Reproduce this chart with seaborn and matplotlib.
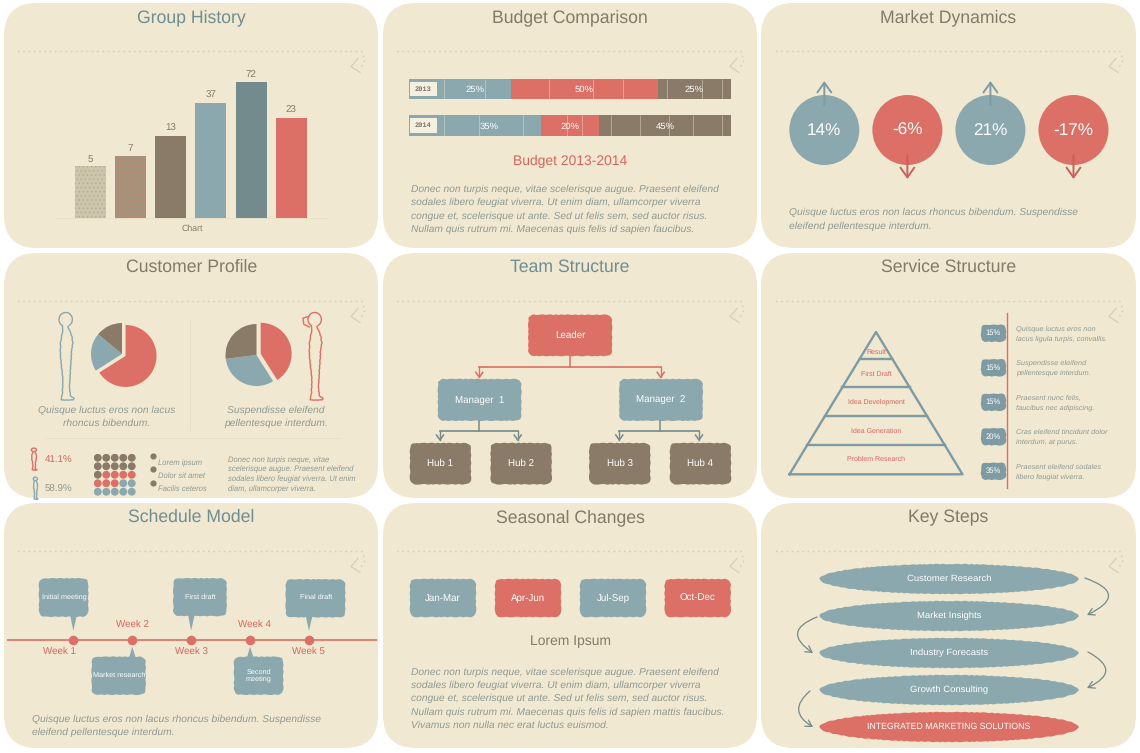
import numpy as np
import pandas as pd
import matplotlib.pyplot as plt
import seaborn as sns

from matplotlib.patches import Ellipse, FancyArrowPatch, FancyBboxPatch, Polygon

# ---------------------------------------------------------------
# Settings: picture size and colours
# ---------------------------------------------------------------
WIDTH = 1140
HEIGHT = 753

CREAM = "#F0E8D0"
RED = "#DC6F66"
TEAL = "#8BA8AE"
DARK_TEAL = "#748B8D"
TAB_TEAL = "#7E9BA3"
BROWN = "#8A7B68"
TAN = "#CDC5AB"
MID_TAN = "#A5927B"
TITLE_TEAL = "#6F8D94"
TITLE_BROWN = "#847A69"
TEXT_GREY = "#8F9A94"
DOT_LINE = "#D6CEB9"
RED_TEXT = "#D9645F"

plt.rcParams["font.family"] = "Liberation Sans"
plt.rcParams["hatch.linewidth"] = 0.6
plt.rcParams["text.hinting"] = "no_hinting"

# ---------------------------------------------------------------
# Values
# ---------------------------------------------------------------
TITLES = ["Group History", "Budget Comparison", "Market Dynamics",
          "Customer Profile", "Team Structure", "Service Structure",
          "Schedule Model", "Seasonal Changes", "Key Steps"]
TITLE_COLORS = [TITLE_TEAL, TITLE_BROWN, TITLE_BROWN,
                TITLE_BROWN, TITLE_TEAL, TITLE_BROWN,
                TITLE_TEAL, TITLE_BROWN, TITLE_BROWN]

history_groups = ["a", "b", "c", "d", "e", "f"]
history_values = [5, 7, 13, 37, 72, 23]

budget_years = ["2013", "2014"]
budget_first = [25, 35]
budget_second = [50, 20]
budget_third = [25, 45]

market_changes = [14, -6, 21, -17]

pie_left = [66, 20, 14]
pie_right = [41, 32, 27]
gender_shares = ["41.1%", "58.9%"]
dot_counts = [11, 7, 7]
dot_legend = ["Lorem ipsum", "Dolor sit amet", "Facilis ceteros"]

hub_names = ["Hub 1", "Hub 2", "Hub 3", "Hub 4"]
manager_names = ["Manager  1", "Manager  2"]

pyramid_stages = ["Result", "First Draft", "Idea Development",
                  "Idea Generation", "Problem Research"]
service_shares = [15, 15, 15, 20, 35]
service_notes = [["Quisque luctus eros non", "lacus ligula turpis, convallis."],
                 ["Suspendisse eleifend", "pellentesque interdum."],
                 ["Praesent nunc felis,", "faucibus nec adipiscing."],
                 ["Cras eleifend tincidunt dolor", "interdum, at purus."],
                 ["Praesent eleifend sodales", "libero feugiat viverra."]]

week_names = ["Week 1", "Week 2", "Week 3", "Week 4", "Week 5"]
week_events = ["Initial meeting", "Market research", "First draft",
               "Second\nmeeting", "Final draft"]

seasons = ["Jan-Mar", "Apr-Jun", "Jul-Sep", "Oct-Dec"]
key_steps = ["Customer Research", "Market Insights", "Industry Forecasts",
             "Growth Consulting", "INTEGRATED MARKETING SOLUTIONS"]

budget_text = ["Donec non turpis neque, vitae scelerisque augue. Praesent eleifend",
               "sodales libero feugiat viverra. Ut enim diam, ullamcorper viverra",
               "congue et, scelerisque ut ante. Sed ut felis sem, sed auctor risus.",
               "Nullam quis rutrum mi. Maecenas quis felis id sapien faucibus."]
season_text = ["Donec non turpis neque, vitae scelerisque augue. Praesent eleifend",
               "sodales libero feugiat viverra. Ut enim diam, ullamcorper viverra",
               "congue et, scelerisque ut ante. Sed ut felis sem, sed auctor risus.",
               "Nullam quis rutrum mi. Maecenas quis felis id sapien mattis faucibus.",
               "Vivamus non nulla nec erat luctus euismod."]
short_text = ["Quisque luctus eros non lacus rhoncus bibendum. Suspendisse",
              "eleifend pellentesque interdum."]
profile_text = ["Donec non turpis neque, vitae",
                "scelerisque augue. Praesent eleifend",
                "sodales libero feugiat viverra. Ut enim",
                "diam, ullamcorper viverra."]


# ---------------------------------------------------------------
# Small helpers, everything in picture pixels
# ---------------------------------------------------------------
def px_axes(fig, x0, y0, x1, y1):
    ax = fig.add_axes([x0 / WIDTH, 1 - y1 / HEIGHT, (x1 - x0) / WIDTH, (y1 - y0) / HEIGHT])
    ax.set_facecolor("none")
    return ax


def rough(patch, scale=0.3):
    patch.set_sketch_params(scale, 9, 3)
    return patch


def round_box(bg, x0, y0, x1, y1, color, radius=6, label=None, size=7):
    bg.add_patch(rough(FancyBboxPatch((x0, y0), x1 - x0, y1 - y0, linewidth=0, facecolor=color,
                                      boxstyle=f"round,pad=0,rounding_size={radius}")))
    if label:
        bg.text((x0 + x1) / 2, (y0 + y1) / 2, label, color="white", size=size,
                ha="center", va="center", linespacing=1.0)


def paragraph(bg, x, y, step, lines, size=7.4, color=TEXT_GREY, ha="left"):
    for i, line in enumerate(lines):
        bg.text(x, y + i * step, line, size=size, color=color, style="italic", ha=ha, va="center")


def arrow_down(bg, x, y0, y1, color):
    bg.plot([x, x], [y0, y1], color=color, lw=1.0)
    bg.plot([x - 3.5, x, x + 3.5], [y1 - 5, y1, y1 - 5], color=color, lw=1.1)


def person(bg, x, y, w, h, color, ponytail=False):
    # side view, facing right
    shape = np.array([(0.62, 0.165), (0.72, 0.21), (0.88, 0.28), (0.92, 0.36), (0.84, 0.45),
                      (0.82, 0.53), (0.76, 0.70), (0.72, 0.88), (0.78, 0.95), (1.00, 0.985),
                      (0.95, 1.00), (0.20, 1.00), (0.28, 0.92), (0.30, 0.75), (0.18, 0.55),
                      (0.14, 0.45), (0.16, 0.35), (0.22, 0.27), (0.30, 0.21), (0.30, 0.165)])
    angle = np.radians(np.arange(-60, 245, 15))
    head_x = 0.48 + 0.42 * np.cos(angle)
    head_y = 0.085 - 0.08 * np.sin(angle)
    line, = bg.plot(x + shape[:, 0] * w, y + shape[:, 1] * h, color=color, lw=1.0)
    line.set_sketch_params(0.25, 6, 3)
    bg.plot(x + head_x * w, y + head_y * h, color=color, lw=1.0)
    if ponytail:
        bg.plot(x + np.array([0.1, -0.25, -0.2, 0.15]) * w, y + np.array([0.05, 0.07, 0.14, 0.17]) * h,
                color=color, lw=1.0)


# ---------------------------------------------------------------
# Panels, titles and the dotted line with the corner arrow
# ---------------------------------------------------------------
def draw_panels(bg):
    columns = [(4, 378), (383, 757), (761, 1136)]
    rows = [(3, 248), (253, 498), (503, 748)]
    centers = [191.5, 570, 948.5]
    for r, (y0, y1) in enumerate(rows):
        for c, (x0, x1) in enumerate(columns):
            bg.add_patch(FancyBboxPatch((x0, y0), x1 - x0, y1 - y0, linewidth=0, facecolor=CREAM,
                                        boxstyle="round,pad=0,rounding_size=33"))
            bg.text(centers[c], y0 + 14.3, TITLES[r * 3 + c], size=12.7, color=TITLE_COLORS[r * 3 + c],
                    ha="center", va="center")
            dx = c * 379
            dy = y0 + 48.5
            bg.plot([18 + dx, 362 + dx, 365 + dx, 361 + dx], [dy, dy, dy + 9, dy + 16],
                    color=DOT_LINE, lw=1.0, ls=(0, (1.2, 2.6)))
            bg.plot([358 + dx, 351 + dx, 360 + dx], [dy + 7, dy + 15, dy + 21], color=DOT_LINE, lw=0.9)


# ---------------------------------------------------------------
# Group History
# ---------------------------------------------------------------
def draw_history(fig):
    ax = px_axes(fig, 57, 71.3, 327, 217.5)
    colors = [TAN, MID_TAN, BROWN, TEAL, DARK_TEAL, RED]
    sns.barplot(x=history_groups, y=history_values, hue=history_groups, palette=colors, legend=False,
                width=0.77, saturation=1, ax=ax)
    ax.set_yscale("log")
    ax.set_xlim(-0.83, 5.89)
    ax.set_ylim(1, 100)
    for bar in ax.patches:
        bar.set_height(bar.get_height() - 1)  # log axis starts at one
        bar.set_y(1)
        bar.set_linewidth(0)
    for container in ax.containers:
        ax.bar_label(container, padding=2, size=7, color=TITLE_BROWN)
    ax.patches[0].set_hatch("....")
    ax.patches[0].set_edgecolor("#B5AD94")
    ax.patches[1].set_hatch("...")
    ax.patches[1].set_edgecolor("#CF7F6F")
    ax.tick_params(which="both", length=0, labelbottom=False, labelleft=False)
    ax.minorticks_off()
    ax.set_ylabel("")
    ax.set_xlabel("Chart", size=6.3, color=TITLE_BROWN, labelpad=5)
    sns.despine(ax=ax, left=True)
    ax.spines["bottom"].set_color("#E7DEC6")
    ax.spines["bottom"].set_linewidth(0.6)


# ---------------------------------------------------------------
# Budget Comparison
# ---------------------------------------------------------------
def draw_budget(fig, bg):
    ax = px_axes(fig, 409, 71, 731, 143.6)
    first = np.array(budget_first)
    second = first + np.array(budget_second)
    third = second + np.array(budget_third)
    for values, color in [(third, BROWN), (second, RED), (first, TEAL)]:
        sns.barplot(x=values, y=budget_years, color=color, width=0.57, saturation=1, orient="h", ax=ax)
    ax.barh(budget_years, [9.9, 9.9], left=-9.9, height=0.57, color=TEAL)
    ax.barh(budget_years, [8.9, 8.9], left=-9.4, height=0.4, color="#F4EFDF")
    ax.set_xlim(-9.9, 100)
    ax.set_ylim(1.5, -0.5)
    ax.axis("off")
    cracks = [[2, 16, 38, 53, 63, 78, 90, 97], [2, 14, 29, 44, 49, 59, 69, 79, 87, 97]]
    for i, year in enumerate(budget_years):
        ax.text(-5, i, year, size=5, color="#77746A", family="Liberation Mono", weight="bold",
                ha="center", va="center")
        ax.vlines(cracks[i], i - 0.285, i + 0.285, color=CREAM, lw=0.5, alpha=0.6)
        ax.text(first[i] / 2, i + 0.02, f"{budget_first[i]}%", size=6.8, color="white", ha="center", va="center")
        ax.text((first[i] + second[i]) / 2, i + 0.02, f"{budget_second[i]}%", size=6.8, color="white",
                ha="center", va="center")
        ax.text((second[i] + third[i]) / 2, i + 0.02, f"{budget_third[i]}%", size=6.8, color="white",
                ha="center", va="center")
    bg.text(570, 161, "Budget 2013-2014", size=10, color=RED_TEXT, ha="center", va="center")
    paragraph(bg, 411, 189, 13.5, budget_text)


# ---------------------------------------------------------------
# Market Dynamics
# ---------------------------------------------------------------
def draw_market(fig, bg):
    ax = px_axes(fig, 782.8, 70, 1115, 190)
    df = pd.DataFrame({"step": range(len(market_changes)), "change": market_changes, "level": 0})
    df["sign"] = np.where(df["change"] > 0, "up", "down")
    sns.scatterplot(data=df, x="step", y="level", hue="sign", palette={"up": TEAL, "down": RED},
                    s=2540, linewidth=0, legend=False, ax=ax)
    ax.set_xlim(-0.5, 3.5)
    ax.set_ylim(-60, 60)
    ax.axis("off")
    for i, row in df.iterrows():
        color = TAB_TEAL if row["sign"] == "up" else "#C9605B"
        side = 1 if row["sign"] == "up" else -1
        ax.annotate("", xy=(i, side * 49), xytext=(i, side * 25),
                    arrowprops=dict(arrowstyle="->,head_width=0.5,head_length=0.7", color=color, lw=1.4,
                                    shrinkA=0, shrinkB=0))
        ax.text(i, -0.5, f"{row['change']}%", size=12.3, color="white", ha="center", va="center")
    paragraph(bg, 789, 212.5, 13.5, short_text)


# ---------------------------------------------------------------
# Customer Profile
# ---------------------------------------------------------------
def draw_customer(fig, bg):
    colors = [RED, TEAL, BROWN]
    left = px_axes(fig, 84.5, 316.5, 159.5, 391.5)
    left.pie(pie_left, colors=colors, startangle=90, counterclock=False, explode=[0.13, 0, 0], radius=1)
    left.set_xlim(-1.21, 1.21)
    left.set_ylim(-1.21, 1.21)
    right = px_axes(fig, 219, 317.5, 294, 392.5)
    right.pie(pie_right, colors=colors, startangle=90, counterclock=False, explode=[0.14, 0, 0], radius=1)
    right.set_xlim(-1.21, 1.21)
    right.set_ylim(-1.21, 1.21)

    person(bg, 58, 312, 16, 88, TEAL)
    person(bg, 307, 312, 16, 88, RED, ponytail=True)
    person(bg, 31, 448, 6, 22, RED)
    person(bg, 33, 477, 5, 22, TEAL)

    bg.plot([190, 190], [320, 430], color="#E7DEC6", lw=0.6)
    bg.plot([45, 340], [438, 438], color="#E7DEC6", lw=0.6)
    paragraph(bg, 107, 410, 13.5, ["Quisque luctus eros non lacus", "rhoncus bibendum."], ha="center")
    paragraph(bg, 276, 410, 13.5, ["Suspendisse eleifend", "pellentesque interdum."], ha="center")

    bg.text(45, 460, gender_shares[0], size=7, color=RED_TEXT, va="center")
    bg.text(45, 489, gender_shares[1], size=7, color=TEXT_GREY, va="center")

    kinds = np.repeat(["brown", "red", "teal"], dot_counts)
    dots = pd.DataFrame({"row": np.arange(len(kinds)) // 5, "col": np.arange(len(kinds)) % 5, "kind": kinds})
    grid = px_axes(fig, 93.5, 453.5, 136, 496)
    sns.scatterplot(data=dots, x="col", y="row", hue="kind", s=32, linewidth=0, legend=False,
                    palette={"brown": BROWN, "red": RED, "teal": TEAL}, ax=grid)
    grid.set_xlim(-0.5, 4.5)
    grid.set_ylim(4.5, -0.5)
    grid.axis("off")

    for i, name in enumerate(dot_legend):
        bg.scatter(153, 456 + i * 13.4, s=20, color=BROWN, linewidths=0)
        bg.text(158, 463 + i * 13, name, size=5.5, color=TEXT_GREY, style="italic", va="center")
    paragraph(bg, 228.5, 460, 9.7, profile_text, size=5.5)


# ---------------------------------------------------------------
# Team Structure
# ---------------------------------------------------------------
def draw_team(bg):
    round_box(bg, 528.3, 314.7, 612, 356, RED, label="Leader")
    bg.plot([569.7, 569.7], [356, 367.3], color=RED, lw=1.1)
    bg.plot([479.3, 660.7], [367.3, 367.3], color=RED, lw=1.2)
    arrow_down(bg, 479.3, 367.3, 377.3, RED)
    arrow_down(bg, 660.7, 367.3, 377.3, RED)
    centers = [479.6, 661]
    for center, name in zip(centers, manager_names):
        round_box(bg, center - 41.7, 379, center + 41.7, 420.7, TEAL, label=name)
    for stem, x0, x1 in [(479, 440, 517.7), (660, 619.3, 699)]:
        bg.plot([stem, stem], [420.7, 431], color=DARK_TEAL, lw=1.1)
        bg.plot([x0, x1], [431, 431], color=DARK_TEAL, lw=1.2)
        arrow_down(bg, x0, 431, 440, DARK_TEAL)
        arrow_down(bg, x1, 431, 440, DARK_TEAL)
    for x0, name in zip([410, 490.7, 589.3, 670], hub_names):
        round_box(bg, x0, 443, x0 + 61, 484.3, BROWN, label=name)


# ---------------------------------------------------------------
# Service Structure
# ---------------------------------------------------------------
def draw_service(bg):
    apex_y = 332
    base_y = 474.3
    tiers = [359, 387.3, 416, 445.3]
    half = 86.5 / (base_y - apex_y)
    bg.plot([876 - 86.5, 876, 876 + 86.5, 876 - 86.5], [base_y, apex_y, base_y, base_y], color=TAB_TEAL, lw=1.7)
    for y in tiers:
        w = (y - apex_y) * half
        bg.plot([876 - w, 876 + w], [y, y], color=TAB_TEAL, lw=1.7)
    for y, stage in zip([351.7, 373.7, 402, 431, 459.3], pyramid_stages):
        bg.text(876, y, stage, size=5, color=RED_TEXT, ha="center", va="center")

    for i, share in enumerate(service_shares):
        y = 333.3 + i * 34.5
        round_box(bg, 981, y - 8.5, 1006, y + 8.5, TAB_TEAL, radius=5, label=f"{share}%", size=5.5)
        paragraph(bg, 1016, y - 4.6, 10, service_notes[i], size=5.3)
    bg.plot([1007, 1007], [313, 488], color=RED, lw=1.0)


# ---------------------------------------------------------------
# Schedule Model
# ---------------------------------------------------------------
def draw_schedule(fig, bg):
    boxes = [(39, 578.3, 88.3, 616.7), (91.7, 656.7, 145.7, 694.7), (173.3, 578.3, 226.7, 616),
             (234, 656.7, 283.3, 694.7), (285.7, 579.3, 345.3, 617.3)]
    labels = [(64, 597), (119.3, 675), (200, 597), (258.7, 675), (316, 597)]
    name_shift = [-14, 0, 0, 4, 0]
    ax = px_axes(fig, 7, 630, 377, 649)
    weeks = pd.DataFrame({"week": np.arange(len(week_names)), "line": 0})
    ax.axhline(0, color=RED, lw=1.2)
    sns.scatterplot(data=weeks, x="week", y="line", color=RED, s=48, linewidth=0, legend=False, ax=ax)
    ax.set_xlim(-1.126, 5.157)
    ax.set_ylim(-1, 1)
    ax.axis("off")
    for i, name in enumerate(week_names):
        x = 73.3 + i * 58.9
        up = i % 2 == 1
        bg.text(x + name_shift[i], 624 if up else 651.7, name, size=7, color=RED_TEXT, ha="center", va="center")
        x0, y0, x1, y1 = boxes[i]
        tip = 646.7 if up else 630.7
        edge = y0 + 1 if up else y1 - 1
        bg.add_patch(Polygon([(x - 3, edge), (x + 3.5, edge), (x, tip)], facecolor=TEAL, linewidth=0))
        round_box(bg, x0, y0, x1, y1, TEAL)
        bg.text(labels[i][0], labels[i][1], week_events[i], size=5.2, color="white", ha="center", va="center",
                linespacing=1.0)
    paragraph(bg, 32, 719, 13.2, short_text)


# ---------------------------------------------------------------
# Seasonal Changes
# ---------------------------------------------------------------
def draw_seasons(bg):
    for x0, name, color in zip([410, 495, 580, 664.7], seasons, [TEAL, RED, TEAL, RED]):
        round_box(bg, x0, 579, x0 + 66, 617, color, label=name)
    bg.text(570, 641, "Lorem Ipsum", size=10, color=TITLE_BROWN, ha="center", va="center")
    paragraph(bg, 411, 672, 13.4, season_text)


# ---------------------------------------------------------------
# Key Steps
# ---------------------------------------------------------------
def draw_steps(bg):
    for i, step in enumerate(key_steps):
        y = 579 + i * 37
        color = RED if i == 4 else TEAL
        bg.add_patch(rough(Ellipse((949, y), 259, 30, facecolor=color, linewidth=0)))
        bg.text(949, y, step, size=6.3 if i == 4 else 6.8, color="white", ha="center", va="center")
    curves = [((1085, 578), (1087, 615), -1.2), ((817, 617), (813, 653), 0.95),
              ((1088, 652), (1087, 688), -1.0), ((810, 691), (813, 727), 0.7)]
    for start, end, rad in curves:
        bg.add_patch(FancyArrowPatch(start, end, connectionstyle=f"arc3,rad={rad}", color=DARK_TEAL, lw=0.9,
                                     arrowstyle="->,head_width=2.6,head_length=4.5", shrinkA=0, shrinkB=0))


# ---------------------------------------------------------------
# Main
# ---------------------------------------------------------------
if __name__ == "__main__":

    fig = plt.figure(figsize=(WIDTH / 100, HEIGHT / 100), dpi=100, facecolor="white")
    bg = fig.add_axes([0, 0, 1, 1])
    bg.set_xlim(0, WIDTH)
    bg.set_ylim(HEIGHT, 0)
    bg.axis("off")

    draw_panels(bg)
    draw_history(fig)
    draw_budget(fig, bg)
    draw_market(fig, bg)
    draw_customer(fig, bg)
    draw_team(bg)
    draw_service(bg)
    draw_schedule(fig, bg)
    draw_seasons(bg)
    draw_steps(bg)

    fig.savefig("out.png", dpi=100)
